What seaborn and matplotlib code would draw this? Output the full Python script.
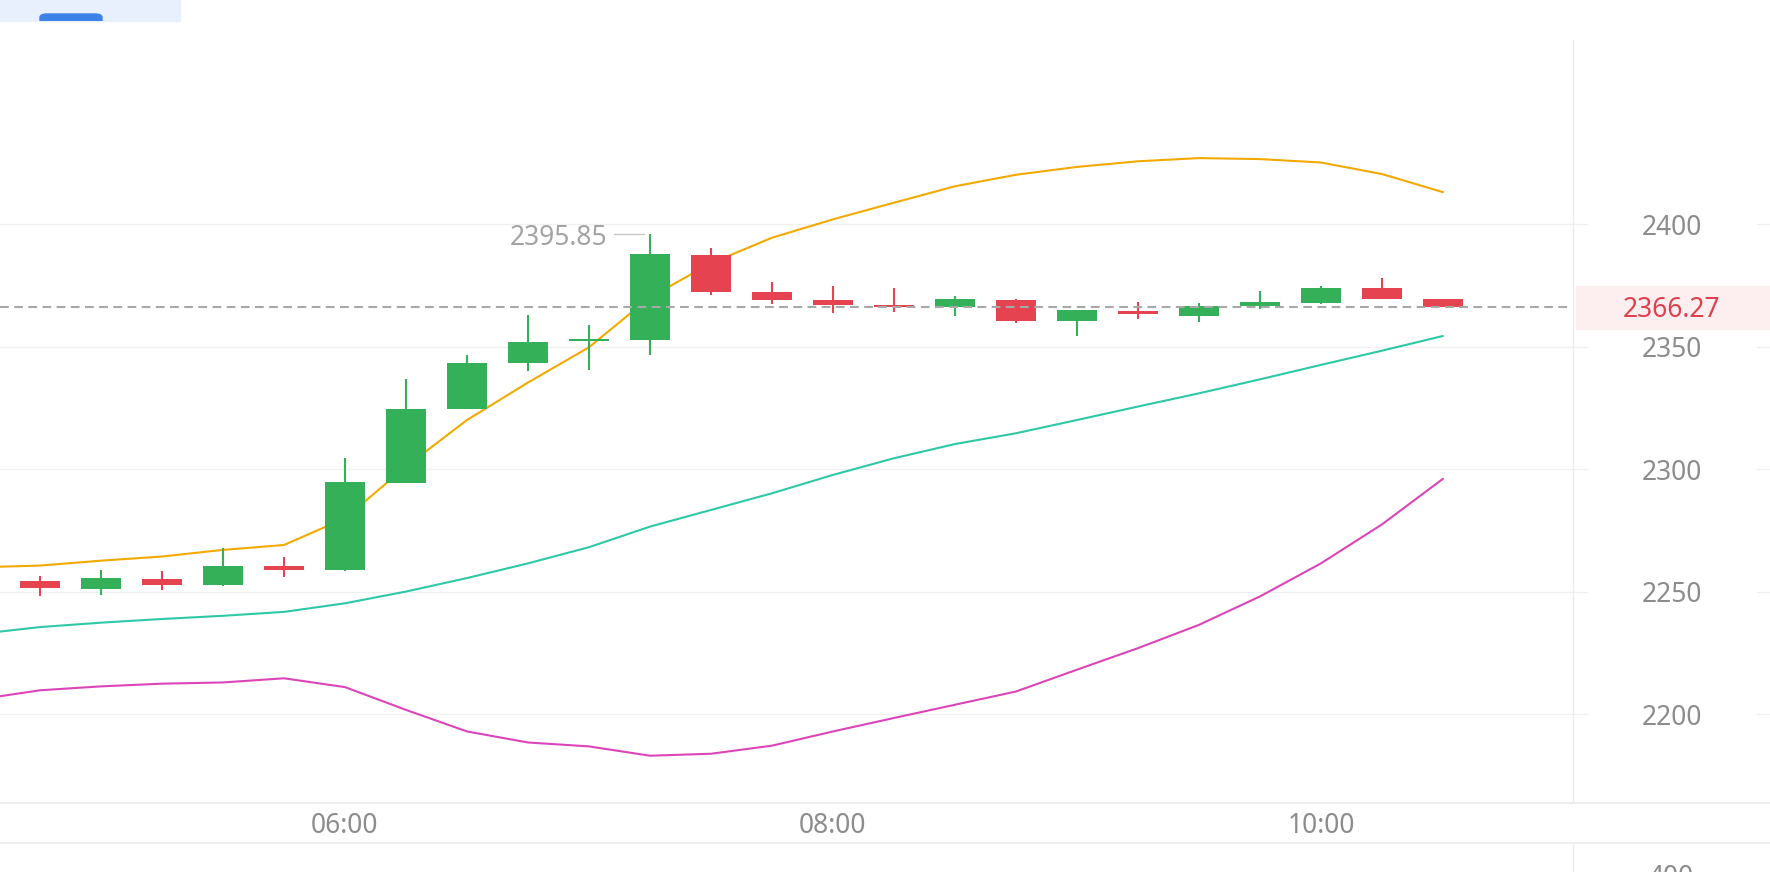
import pandas as pd
import seaborn as sns
import matplotlib.pyplot as plt
import matplotlib.transforms as mtransforms
from matplotlib.patches import Rectangle, FancyBboxPatch
from matplotlib.lines import Line2D

sns.set_theme(style="white")
plt.rcParams['font.family'] = ['Noto Sans', 'DejaVu Sans']

# 15 minute candles
times = ["04:30", "04:45", "05:00", "05:15", "05:30", "05:45", "06:00", "06:15",
         "06:30", "06:45", "07:00", "07:15", "07:30", "07:45", "08:00", "08:15",
         "08:30", "08:45", "09:00", "09:15", "09:30", "09:45", "10:00", "10:15", "10:30"]
opens = [2254.5, 2254.4, 2251.3, 2255.2, 2252.7, 2260.4, 2258.8, 2294.5,
         2324.7, 2343.2, 2352.5, 2352.6, 2387.5, 2372.2, 2368.9, 2366.9,
         2366.1, 2369.1, 2360.4, 2364.6, 2362.7, 2366.5, 2367.7, 2373.9, 2369.6]
closes = [2252.5, 2251.4, 2255.5, 2252.7, 2260.7, 2259.0, 2294.7, 2324.7,
          2343.4, 2352.0, 2353.1, 2387.8, 2372.2, 2368.9, 2366.9, 2366.2,
          2369.4, 2360.4, 2365.0, 2363.2, 2366.5, 2368.1, 2374.0, 2369.6, 2366.27]
highs = [2256.0, 2256.5, 2258.8, 2258.5, 2267.8, 2264.0, 2304.8, 2336.9,
         2346.7, 2363.0, 2358.9, 2395.85, 2390.2, 2376.3, 2374.9, 2373.9,
         2370.7, 2369.6, 2365.2, 2368.4, 2367.8, 2372.7, 2374.8, 2378.0, 2369.6]
lows = [2251.0, 2248.3, 2248.7, 2250.7, 2252.5, 2256.0, 2258.5, 2294.3,
        2324.5, 2340.1, 2340.5, 2346.8, 2371.1, 2367.5, 2363.8, 2364.1,
        2362.6, 2359.5, 2354.3, 2361.4, 2360.2, 2365.6, 2367.6, 2369.5, 2366.27]

# bollinger bands
upper = [2260.0, 2260.7, 2262.7, 2264.4, 2267.1, 2269.1, 2280.0, 2301.1,
         2320.1, 2335.4, 2349.8, 2370.2, 2384.1, 2394.5, 2402.0, 2408.8,
         2415.5, 2420.2, 2423.4, 2425.7, 2427.0, 2426.6, 2425.2, 2420.5, 2413.1]
middle = [2232.8, 2235.6, 2237.4, 2238.9, 2240.2, 2241.8, 2245.3, 2250.1,
          2255.6, 2261.6, 2268.2, 2276.6, 2283.4, 2290.2, 2297.7, 2304.5,
          2310.3, 2314.7, 2320.1, 2325.6, 2331.0, 2336.7, 2342.6, 2348.4, 2354.4]
lower = [2206.1, 2209.8, 2211.4, 2212.5, 2213.0, 2214.7, 2211.1, 2201.8,
         2193.0, 2188.5, 2186.9, 2183.1, 2183.9, 2187.2, 2193.0, 2198.5,
         2203.9, 2209.3, 2218.2, 2227.0, 2236.5, 2248.1, 2261.6, 2277.5, 2296.1]

price_ticks = [2200, 2250, 2300, 2350, 2400]
time_ticks = ["06:00", "08:00", "10:00"]
last_price = 2366.27
high_label = "2395.85"

GREEN = "#34b158"
RED = "#e5434f"
GREY_TXT = "#8c8c8c"

def to_hours(t):
    h, m = t.split(":")
    return int(h) + int(m) / 60

df = pd.DataFrame({"t": [to_hours(t) for t in times], "open": opens, "close": closes,
                   "high": highs, "low": lows, "upper": upper, "middle": middle, "lower": lower})

W, H = 1770, 872
fx = lambda px: px / W
fy = lambda py: 1 - py / H

fig = plt.figure(figsize=(W / 100, H / 100), dpi=100)
ax = fig.add_axes([0, fy(803), fx(1572), (803 - 40) / H])
ax.set_xlim(4.586, 11.029)
ax.set_ylim(2163.8, 2475.2)
for s in ax.spines.values():
    s.set_visible(False)
ax.set_xticks([])
ax.set_yticks([])

trans = mtransforms.blended_transform_factory(ax.transAxes, ax.transData)
xtrans = mtransforms.blended_transform_factory(ax.transData, ax.transAxes)

# grid + price labels
for v in price_ticks:
    ax.plot([0, 1587 / 1572], [v, v], transform=trans, clip_on=False, color="#f0f0f0", lw=1, zorder=0)
    ax.plot([1757 / 1572, W / 1572], [v, v], transform=trans, clip_on=False, color="#f0f0f0", lw=1, zorder=0)
    ax.text(1672 / 1572, v, str(v), transform=trans, ha="center", va="center_baseline",
            fontsize=19, color=GREY_TXT, clip_on=False)

# bands
sns.lineplot(data=df, x="t", y="upper", color="#f2a900", lw=1.5, ax=ax, zorder=3)
sns.lineplot(data=df, x="t", y="middle", color="#2ec8a6", lw=1.5, ax=ax, zorder=3)
sns.lineplot(data=df, x="t", y="lower", color="#dc45b8", lw=1.5, ax=ax, zorder=3)
ax.set_xlabel("")
ax.set_ylabel("")

# candles
width = 0.165
for _, r in df.iterrows():
    c = GREEN if r["close"] >= r["open"] else RED
    lo = min(r["open"], r["close"])
    h = max(abs(r["close"] - r["open"]), 0.6)
    ax.vlines(r["t"], r["low"], r["high"], color=c, lw=1.5, zorder=4)
    ax.bar(r["t"], h, bottom=lo, width=width, color=c, zorder=5, linewidth=0)

# last price line + label
ax.axhline(last_price, color="#a8a8a8", lw=1.5, ls=(0, (4.2, 2.6)), zorder=6)
ax.add_patch(Rectangle((1576 / 1572, 2357.3), (W - 1576) / 1572, 17.5, transform=trans,
                       clip_on=False, color="#fdeeef", zorder=1))
ax.text(1672 / 1572, last_price, f"{last_price:.2f}", transform=trans, ha="center",
        va="center_baseline", fontsize=19, color="#e0404e", clip_on=False, zorder=7)

# max marker
t_hi = df.loc[df["high"].idxmax(), "t"]
ax.plot([t_hi - 0.1475, t_hi - 0.0246], [2395.85, 2395.85], color="#c8c8c8", lw=1)
ax.text(t_hi - 0.176, 2395.85, high_label, ha="right", va="center_baseline",
        fontsize=19, color="#a3a3a3")

# time labels
for lab in time_ticks:
    ax.text(to_hours(lab), -0.026, lab, transform=xtrans, ha="center", va="center_baseline",
            fontsize=19, color=GREY_TXT, clip_on=False)

# frame lines
fig.add_artist(Line2D([0, 1], [fy(803), fy(803)], color="#eeeeee", lw=1.5))
fig.add_artist(Line2D([0, 1], [fy(843), fy(843)], color="#eeeeee", lw=1.5))
fig.add_artist(Line2D([fx(1573), fx(1573)], [fy(40), fy(803)], color="#ececec", lw=1))
fig.add_artist(Line2D([fx(1573), fx(1573)], [fy(843), 0], color="#ececec", lw=1))

# top-left tab strip
tab = Rectangle((0, fy(20.7)), fx(180), 20.7 / H, transform=fig.transFigure, color="#e7f0fc")
fig.add_artist(tab)
btn = FancyBboxPatch((fx(40), fy(32)), fx(62), 18 / H, boxstyle="round,pad=0,rounding_size=0.004",
                     transform=fig.transFigure, color="#3d82e6")
fig.add_artist(btn)
btn.set_clip_path(tab)

# next panel's axis label, cut off at the bottom as in the source
fig.text(fx(1671), fy(864), "400", ha="center", va="top", fontsize=19, color=GREY_TXT)

plt.savefig("out.png", dpi=100)
